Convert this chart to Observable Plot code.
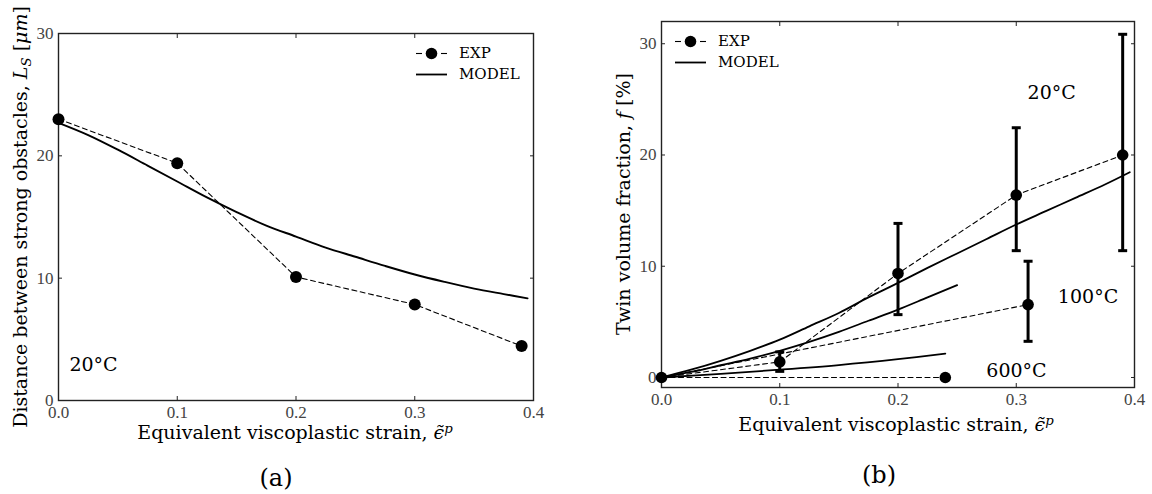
<!DOCTYPE html>
<html><head><meta charset="utf-8">
<script src="https://cdn.jsdelivr.net/npm/d3@7"></script>
<script src="https://cdn.jsdelivr.net/npm/@observablehq/plot@0.6"></script>
<style>
body{margin:0;background:#fff;}
#root{position:relative;width:1152px;height:494px;overflow:hidden;font-family:"DejaVu Serif","Liberation Serif",serif;color:#000;background:#fff;}
.panel{position:absolute;top:0;}
.t{position:absolute;white-space:nowrap;transform:translate(-50%,-50%);line-height:1;font-size:19px;}
.ty{transform:translate(-50%,-50%) rotate(-90deg);}
.sub{font-size:70%;position:relative;top:0.3em;}
.sup{font-size:70%;position:relative;top:-0.45em;}
.leg{position:absolute;font-size:15px;line-height:1;}
.leg .row{display:flex;align-items:center;height:21px;}
.leg svg{margin-right:12px;}
</style></head><body><div id="root"></div><script>
// ---------- Panel (a): distance between strong obstacles ----------
const expStrainA = [0, 0.1, 0.2, 0.3, 0.39];
const expLs      = [23, 19.4, 10.1, 7.85, 4.45];
const modelStrainA = [0, 0.025, 0.05, 0.075, 0.1, 0.125, 0.15, 0.175, 0.2, 0.225, 0.25, 0.275, 0.3, 0.325, 0.35, 0.375, 0.395];
const modelLs      = [22.7, 21.7, 20.5, 19.2, 17.9, 16.6, 15.4, 14.3, 13.4, 12.5, 11.75, 11.0, 10.3, 9.7, 9.15, 8.7, 8.35];
const xTicks = [0, 0.1, 0.2, 0.3, 0.4];
const yTicksA = [0, 10, 20, 30];
const labelA = ["20°C"], labelAx = [0.0295], labelAy = [2.9];

// ---------- Panel (b): twin volume fraction ----------
const exp20Strain = [0, 0.1, 0.2, 0.3, 0.39];
const exp20       = [0, 1.4, 9.35, 16.4, 20.0];
const err20Strain = [0.1, 0.2, 0.3, 0.39];
const err20Lo     = [0.55, 5.65, 11.4, 11.4];
const err20Hi     = [2.3, 13.85, 22.45, 30.85];
const exp100Strain = [0, 0.31];
const exp100       = [0, 6.55];
const err100Strain = [0.31];
const err100Lo     = [3.25];
const err100Hi     = [10.45];
const exp600Strain = [0, 0.24];
const exp600       = [0, 0];
const model20Strain = [0, 0.025, 0.05, 0.075, 0.1, 0.125, 0.15, 0.175, 0.2, 0.225, 0.25, 0.275, 0.3, 0.325, 0.35, 0.375, 0.396];
const model20       = [0, 0.7, 1.5, 2.4, 3.4, 4.6, 5.8, 7.2, 8.5, 9.85, 11.15, 12.45, 13.75, 14.95, 16.15, 17.35, 18.45];
const model100Strain = [0, 0.025, 0.05, 0.075, 0.1, 0.125, 0.15, 0.175, 0.2, 0.225, 0.25];
const model100       = [0, 0.5, 1.1, 1.7, 2.4, 3.2, 4.1, 5.1, 6.1, 7.2, 8.3];
const model600Strain = [0, 0.05, 0.1, 0.15, 0.2, 0.24];
const model600       = [0, 0.33, 0.7, 1.12, 1.65, 2.15];
const yTicksB = [0, 10, 20, 30];
const labelsB = ["20°C", "100°C", "600°C"];
const labelsBx = [0.33, 0.3607, 0.3002];
const labelsBy = [25.6, 7.2, 0.6];

const toXY = (xs, ys, extra = {}) => xs.map((x, i) => ({x, y: ys[i], ...extra}));
const toErr = (xs, lo, hi) => xs.map((x, i) => ({x, lo: lo[i], hi: hi[i]}));
const capSymbol = {draw(ctx, size) { const w = Math.sqrt(size / Math.PI); ctx.moveTo(-w, 0); ctx.lineTo(w, 0); }};
const fmt1 = d3.format(".1f");
const style = {fontFamily: "Liberation Serif, DejaVu Serif, serif", fontSize: "17px", background: "transparent", overflow: "visible", color: "#000"};
const dash = "5,3.5";
const labelFont = {fontFamily: "DejaVu Serif", fontSize: 19, fill: "#000"};

function frameAxes(yTicks) {
  return [
    Plot.axisX({ticks: xTicks, tickSize: 0, tickPadding: 5, tickFormat: fmt1, label: null, fill: "#444"}),
    Plot.axisX({anchor: "bottom", ticks: xTicks, tickSize: -4, fill: "none", label: null, stroke: "#222"}),
    Plot.axisX({anchor: "top", ticks: xTicks, tickSize: -4, fill: "none", label: null, stroke: "#222"}),
    Plot.axisY({ticks: yTicks, tickSize: 0, tickPadding: 5, label: null, fill: "#444"}),
    Plot.axisY({anchor: "left", ticks: yTicks, tickSize: -4, fill: "none", label: null, stroke: "#222"}),
    Plot.axisY({anchor: "right", ticks: yTicks, tickSize: -4, fill: "none", label: null, stroke: "#222"}),
    Plot.frame({stroke: "#222", strokeWidth: 1.4})
  ];
}

const plotA = Plot.plot({
  width: 576, height: 494, marginLeft: 58, marginRight: 43, marginTop: 33, marginBottom: 94,
  x: {domain: [0, 0.4]}, y: {domain: [0, 30]}, style,
  marks: [
    ...frameAxes(yTicksA),
    Plot.line(toXY(modelStrainA, modelLs), {x: "x", y: "y", stroke: "#000", strokeWidth: 1.9, curve: "catmull-rom"}),
    Plot.line(toXY(expStrainA, expLs), {x: "x", y: "y", stroke: "#000", strokeWidth: 1.1, strokeDasharray: dash}),
    Plot.dot(toXY(expStrainA, expLs), {x: "x", y: "y", r: 6, fill: "#000"}),
    Plot.text(labelA, {x: labelAx, y: labelAy, text: d => d, ...labelFont})
  ]
});

const dataB = [
  ...toXY(exp20Strain, exp20, {T: "20°C"}),
  ...toXY(exp100Strain, exp100, {T: "100°C"}),
  ...toXY(exp600Strain, exp600, {T: "600°C"})
];
const modelB = [
  ...toXY(model20Strain, model20, {T: "20°C"}),
  ...toXY(model100Strain, model100, {T: "100°C"}),
  ...toXY(model600Strain, model600, {T: "600°C"})
];
const errB = [...toErr(err20Strain, err20Lo, err20Hi), ...toErr(err100Strain, err100Lo, err100Hi)];
const dotsB = [
  ...toXY(exp20Strain, exp20),
  ...toXY(exp100Strain.slice(1), exp100.slice(1)),
  ...toXY(exp600Strain.slice(1), exp600.slice(1))
];

const plotB = Plot.plot({
  width: 576, height: 494, marginLeft: 85, marginRight: 18, marginTop: 21, marginBottom: 107,
  x: {domain: [0, 0.4]}, y: {domain: [-0.9, 32]}, style,
  marks: [
    ...frameAxes(yTicksB),
    Plot.line(modelB, {x: "x", y: "y", z: "T", stroke: "#000", strokeWidth: 1.8, curve: "catmull-rom"}),
    Plot.line(dataB, {x: "x", y: "y", z: "T", stroke: "#000", strokeWidth: 1.1, strokeDasharray: dash}),
    Plot.ruleX(errB, {x: "x", y1: "lo", y2: "hi", stroke: "#000", strokeWidth: 3}),
    Plot.dot(errB, {x: "x", y: "lo", symbol: capSymbol, r: 4.5, stroke: "#000", strokeWidth: 3}),
    Plot.dot(errB, {x: "x", y: "hi", symbol: capSymbol, r: 4.5, stroke: "#000", strokeWidth: 3}),
    Plot.dot(dotsB, {x: "x", y: "y", r: 5.8, fill: "#000"}),
    Plot.text(labelsB, {x: labelsBx, y: labelsBy, text: d => d, ...labelFont})
  ]
});

const root = document.getElementById("root");
plotA.classList.add("panel"); plotA.style.left = "0px";
plotB.classList.add("panel"); plotB.style.left = "576px";
root.appendChild(plotA); root.appendChild(plotB);

function addText(html, x, y, cls = "t", size) {
  const d = document.createElement("div");
  d.className = cls; d.innerHTML = html;
  d.style.left = x + "px"; d.style.top = y + "px";
  if (size) d.style.fontSize = size + "px";
  root.appendChild(d);
}
const xTitle = 'Equivalent viscoplastic strain, <i>ϵ̃</i><span class="sup"><i>p</i></span>';
addText(xTitle, 295, 432);
addText(xTitle, 896, 424);
addText('Distance between strong obstacles, <i>L</i><span class="sub"><i>S</i></span> [<i>μm</i>]', 20, 217, "t ty");
addText('Twin volume fraction, <i>f</i> [%]', 623, 204, "t ty");
addText('(a)', 276, 478, "t", 24);
addText('(b)', 879, 475, "t", 24);

function legend(left, top) {
  const d = document.createElement("div");
  d.className = "leg"; d.style.left = left + "px"; d.style.top = top + "px";
  d.innerHTML =
    '<div class="row"><svg width="31" height="21"><line x1="0" y1="10.5" x2="6" y2="10.5" stroke="#000" stroke-width="1.1"/><line x1="25" y1="10.5" x2="31" y2="10.5" stroke="#000" stroke-width="1.1"/><circle cx="15.5" cy="10.5" r="5.8" fill="#000"/></svg><span>EXP</span></div>' +
    '<div class="row"><svg width="31" height="21"><line x1="0" y1="10.5" x2="31" y2="10.5" stroke="#000" stroke-width="1.8"/></svg><span>MODEL</span></div>';
  root.appendChild(d);
}
legend(416, 42.5);
legend(675, 30.5);
</script></body></html>
